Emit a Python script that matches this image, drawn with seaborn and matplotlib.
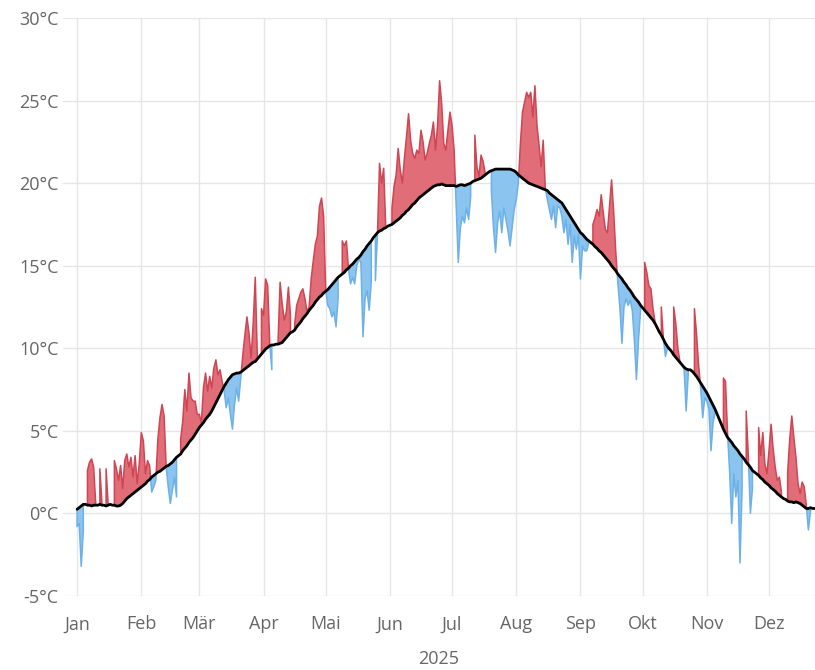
import numpy as np
import pandas as pd
import matplotlib
matplotlib.use("Agg")
import matplotlib.pyplot as plt
import seaborn as sns

nan = np.nan

# Axis labelling
month_labels = ["Jan", "Feb", "Mär", "Apr", "Mai", "Jun", "Jul", "Aug", "Sep", "Okt", "Nov", "Dez"]
month_start_days = [0, 31, 59, 90, 120, 151, 181, 212, 243, 273, 304, 334]
y_ticks = [-5, 0, 5, 10, 15, 20, 25, 30]
y_tick_labels = [f"{v}°C" for v in y_ticks]
year_label = "2025"

# Daily mean temperature 2025 (°C), NaN = no measurement
temp_jan = [-0.8, -0.6, -3.2, -1.1, nan, 2.6, 3.1, 3.3, 2.8, 0.6, nan, 2.7, 0.6, nan, 2.7, 0.5,
            nan, nan, 3.2, 2.7, 2.0, 2.9, 1.5, 3.2, 3.6, 2.8, 3.4, 2.2, 3.5, 1.8, 3.0]
temp_feb = [4.9, 4.4, 2.4, 3.2, 2.9, 1.3, 1.6, 2.0, 4.5, 5.8, 6.6, 5.9, 2.8, 1.6, 0.6, 1.4,
            2.2, 1.0, nan, 4.5, 5.6, 7.5, 6.2, 8.5, 7.0, 6.8, 6.8, 6.0]
temp_mar = [6.0, 5.5, 7.6, 8.5, 7.4, 8.3, 7.6, 8.8, 9.3, 8.4, 8.7, 8.0, 7.4, 6.4, 7.0, 6.0,
            5.1, 6.6, 7.6, 6.8, 8.2, 9.6, 10.8, 11.9, 10.9, 9.4, 11.5, 14.3, 9.6, nan, 12.4]
temp_apr = [12.0, 14.2, 13.8, 10.3, 8.7, nan, nan, 10.4, 14.0, 12.7, 11.7, 12.2, 13.7, 12.0, nan,
            11.4, 12.6, 13.0, 13.4, 13.6, 13.0, 12.2, 12.5, 14.2, 15.3, 16.3, 16.8, 18.6, 19.1, 18.0]
temp_mai = [13.5, 12.6, 12.4, 11.9, 12.2, 11.3, 13.0, nan, 16.5, 16.2, 16.5, 14.8, 13.9, 14.3,
            13.9, 15.0, 15.4, 15.2, 10.7, 13.0, 13.5, 12.3, 14.0, nan, 14.1, 16.9, 21.2, 20.0,
            20.9, 17.3, nan]
temp_jun = [nan, 18.5, 19.8, 20.5, 22.1, 20.8, 20.0, 21.5, 22.8, 24.2, 22.6, 21.8, 21.5, 22.0,
            21.8, 23.2, 22.5, 21.4, 21.8, 22.4, 22.9, 23.7, 22.0, 23.5, 26.2, 24.8, 22.4, 22.0,
            23.2, 24.3]
temp_jul = [23.5, 22.0, 18.6, 15.2, 17.3, 18.0, 17.6, 18.5, 17.8, 19.2, nan, 22.9, 21.0, 20.4,
            21.7, 21.3, 20.6, nan, nan, 19.5, 17.3, 15.8, 17.6, 18.3, 17.0, 18.5, 17.8, 17.1,
            16.2, 17.3, 18.4]
temp_aug = [19.0, 20.0, 22.4, 24.3, 24.9, 25.5, 25.2, 25.5, 24.0, 25.9, 23.5, 22.3, 21.0, 22.6,
            19.7, 19.0, 18.4, 17.8, 18.6, 17.3, 18.6, 18.5, 18.0, 17.0, 17.8, 16.3, 17.5, 15.2,
            16.8, 16.0, 16.9]
temp_sep = [14.2, 16.2, 15.9, 15.9, 16.4, nan, 17.5, 17.9, 18.4, 18.0, 19.3, 18.2, 17.2, 17.0,
            18.6, 20.2, 18.3, 15.9, 14.0, 12.5, 10.3, 12.5, 13.0, 12.6, 12.9, 12.3, 10.5, 8.1,
            10.5, 12.3]
temp_okt = [nan, 15.2, 14.6, 13.8, 13.6, 12.4, 11.6, nan, nan, 12.5, 10.6, 9.5, 10.0, nan, nan,
            12.5, 11.5, 10.0, 9.2, nan, 8.8, 6.2, 8.4, nan, nan, 12.4, 10.9, 9.0, 7.6, 5.8, 7.0]
temp_nov = [6.8, 6.3, 3.8, 5.5, 6.1, nan, nan, nan, 8.2, 8.0, 4.8, 2.5, -0.6, 2.4, 1.0, 2.0,
            -3.0, 1.5, nan, 6.2, 3.5, 0.0, 1.5, nan, nan, 5.2, 3.5, 4.9, 3.0, 2.4]
temp_dez = [3.8, 5.4, 3.9, 2.8, 2.0, 2.2, 1.3, nan, nan, 2.5, 4.5, 5.9, 4.6, 3.4, 1.8, 1.2,
            1.9, 1.6, 0.5, -1.0, 0.1, nan, nan]

# Long-term daily mean (°C)
mean_jan = [0.25, 0.35, 0.45, 0.55, 0.55, 0.5, 0.5, 0.45, 0.5, 0.5, 0.5, 0.55, 0.5, 0.5, 0.45,
            0.5, 0.55, 0.5, 0.5, 0.45, 0.45, 0.5, 0.6, 0.75, 0.9, 1.0, 1.1, 1.2, 1.3, 1.4, 1.5]
mean_feb = [1.6, 1.7, 1.8, 1.95, 2.05, 2.2, 2.3, 2.4, 2.5, 2.55, 2.65, 2.75, 2.85, 2.9, 3.0,
            3.1, 3.25, 3.4, 3.5, 3.6, 3.8, 3.95, 4.1, 4.3, 4.45, 4.6, 4.8, 5.0]
mean_mar = [5.2, 5.35, 5.5, 5.7, 5.85, 6.0, 6.2, 6.45, 6.7, 6.95, 7.2, 7.45, 7.7, 7.9, 8.1,
            8.25, 8.4, 8.45, 8.5, 8.5, 8.55, 8.65, 8.75, 8.85, 8.95, 9.05, 9.15, 9.2, 9.35,
            9.5, 9.65]
mean_apr = [9.8, 9.95, 10.05, 10.15, 10.2, 10.2, 10.25, 10.25, 10.3, 10.35, 10.5, 10.65, 10.8,
            10.95, 11.0, 11.1, 11.3, 11.45, 11.6, 11.8, 11.95, 12.1, 12.3, 12.45, 12.6, 12.8,
            12.95, 13.1, 13.2, 13.35]
mean_mai = [13.45, 13.55, 13.7, 13.85, 14.0, 14.15, 14.3, 14.4, 14.5, 14.6, 14.75, 14.85, 15.0,
            15.1, 15.25, 15.4, 15.5, 15.65, 15.85, 16.0, 16.2, 16.35, 16.5, 16.7, 16.85, 17.0,
            17.1, 17.15, 17.25, 17.3, 17.4]
mean_jun = [17.45, 17.5, 17.6, 17.7, 17.8, 17.9, 18.05, 18.15, 18.3, 18.4, 18.55, 18.7, 18.8,
            18.95, 19.1, 19.2, 19.3, 19.4, 19.5, 19.6, 19.7, 19.8, 19.85, 19.9, 19.9, 19.95,
            19.9, 19.85, 19.85, 19.85]
mean_jul = [19.85, 19.85, 19.8, 19.85, 19.9, 19.9, 19.85, 19.9, 19.95, 20.0, 20.1, 20.15, 20.2,
            20.25, 20.3, 20.4, 20.5, 20.6, 20.7, 20.75, 20.8, 20.85, 20.85, 20.85, 20.85, 20.85,
            20.85, 20.85, 20.85, 20.8, 20.75]
mean_aug = [20.65, 20.5, 20.4, 20.3, 20.2, 20.1, 20.0, 19.95, 19.9, 19.85, 19.8, 19.75, 19.7,
            19.65, 19.6, 19.55, 19.4, 19.3, 19.2, 19.1, 19.0, 18.9, 18.8, 18.6, 18.4, 18.2,
            18.0, 17.8, 17.6, 17.4, 17.2]
mean_sep = [17.0, 16.9, 16.75, 16.6, 16.5, 16.4, 16.3, 16.15, 16.05, 15.9, 15.8, 15.65, 15.5,
            15.35, 15.2, 15.0, 14.85, 14.7, 14.5, 14.35, 14.2, 14.0, 13.85, 13.65, 13.5, 13.3,
            13.1, 12.95, 12.8, 12.6]
mean_okt = [12.45, 12.3, 12.15, 12.0, 11.85, 11.7, 11.5, 11.25, 11.0, 10.8, 10.55, 10.3, 10.1,
            9.95, 9.8, 9.6, 9.45, 9.3, 9.15, 9.0, 8.85, 8.75, 8.7, 8.7, 8.6, 8.45, 8.3, 8.1,
            7.9, 7.7, 7.5]
mean_nov = [7.3, 7.05, 6.8, 6.55, 6.3, 6.0, 5.7, 5.4, 5.1, 4.85, 4.6, 4.45, 4.3, 4.1, 3.95,
            3.8, 3.6, 3.45, 3.3, 3.1, 2.95, 2.8, 2.6, 2.5, 2.4, 2.3, 2.15, 2.05, 1.9, 1.8]
mean_dez = [1.7, 1.55, 1.45, 1.35, 1.2, 1.1, 1.0, 0.9, 0.85, 0.75, 0.7, 0.7, 0.65, 0.7, 0.65,
            0.6, 0.5, 0.4, 0.3, 0.3, 0.35, 0.3, 0.3]

temp = np.array(temp_jan + temp_feb + temp_mar + temp_apr + temp_mai + temp_jun +
                temp_jul + temp_aug + temp_sep + temp_okt + temp_nov + temp_dez, dtype=float)
mean = np.array(mean_jan + mean_feb + mean_mar + mean_apr + mean_mai + mean_jun +
                mean_jul + mean_aug + mean_sep + mean_okt + mean_nov + mean_dez, dtype=float)
days = np.arange(len(temp))
df = pd.DataFrame({"day": days, "temp": temp, "mean": mean})

sns.set_theme(style="white")
plt.rcParams["font.family"] = ["Open Sans", "DejaVu Sans"]

label_color = "#666666"
grid_color = "#e6e6e6"
warm_fill, warm_edge = "#e06d78", "#d04553"
cold_fill, cold_edge = "#8cc4f0", "#6cb1e8"

fig = plt.figure(figsize=(8.15, 6.70), dpi=100)
ax = fig.add_axes([63 / 815, 74 / 670, 752 / 815, 578 / 670])

with np.errstate(invalid="ignore"):
    warmer = temp >= mean
    colder = temp < mean

ax.fill_between(df["day"], df["temp"], df["mean"], where=warmer, interpolate=True,
                facecolor=warm_fill, edgecolor=warm_edge, linewidth=1.1, zorder=2)
ax.fill_between(df["day"], df["temp"], df["mean"], where=colder, interpolate=True,
                facecolor=cold_fill, edgecolor=cold_edge, linewidth=1.1, zorder=2)

sns.lineplot(data=df, x="day", y="mean", color="black", linewidth=2.0, ax=ax, zorder=3)

ax.set_xlim(-6.8, 356.2)
ax.set_ylim(-5, 30)
ax.set_xticks(month_start_days)
ax.set_xticklabels(month_labels)
ax.set_yticks(y_ticks)
ax.set_yticklabels(y_tick_labels)

ax.grid(True, color=grid_color, linewidth=1.0, zorder=0)
ax.set_axisbelow(True)
for s in ax.spines.values():
    s.set_visible(False)

ax.tick_params(axis="x", length=9, width=1, color=grid_color, direction="out",
               pad=5, labelsize=13, labelcolor=label_color)
ax.tick_params(axis="y", length=0, pad=3, labelsize=13, labelcolor=label_color)

ax.set_xlabel(year_label, fontsize=13, color=label_color, labelpad=12)
ax.set_ylabel("")

fig.savefig("out.png", dpi=100)
